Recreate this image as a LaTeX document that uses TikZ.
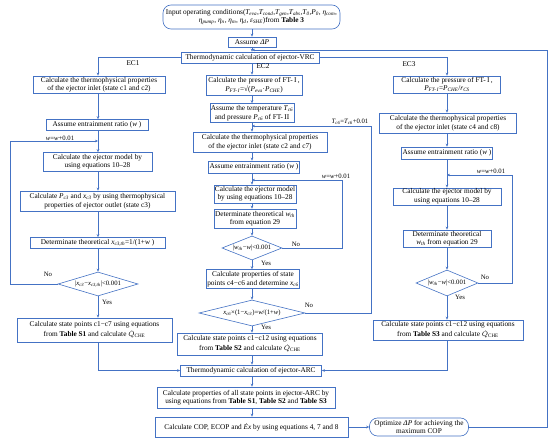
\documentclass[tikz,border=0pt]{standalone}
\usepackage{fontspec}
\setmainfont{Liberation Serif}
\usetikzlibrary{shapes.geometric,arrows.meta}
\definecolor{lb}{RGB}{68,114,196}
\newcommand{\sbv}[2]{\textit{#1\textsubscript{#2}}}
\newcommand{\Qche}{$\dot{Q}_{\mathrm{CHE}}$}
\begin{document}
\begin{tikzpicture}[x=1pt,y=-1pt,
 box/.style={draw=lb, line width=0.6pt, fill=white, align=center, inner sep=1pt, font=\fontsize{7.3}{8.5}\selectfont},
 qbox/.style={box, font=\fontsize{7.3}{10}\selectfont},
 rbox/.style={box, rounded corners=8pt},
 dia/.style={draw=lb, line width=0.6pt, shape=diamond, inner sep=0pt, fill=white, font=\fontsize{6.7}{8}\selectfont},
 ar/.style={draw=lb, line width=0.6pt, -{Stealth[length=3pt,width=2.6pt]}},
 lbl/.style={font=\fontsize{6.7}{8}\selectfont, inner sep=0pt}]
\useasboundingbox (0,0) rectangle (550,441);
\coordinate (X1) at (98,0);
\coordinate (X2) at (252,0);
\coordinate (X3) at (447,0);
% top
\node[rbox, minimum width=177pt, minimum height=24pt] (inp) at (251.5,17) {Input operating conditions(\sbv{T}{eva},\sbv{T}{cond},\sbv{T}{gen},\sbv{T}{abs},\sbv{T}{0},\sbv{P}{0}, \sbv{η}{com},\\\sbv{η}{pump}, \sbv{η}{n}, \sbv{η}{m}, \sbv{η}{d}, \sbv{ε}{SHE})from \textbf{Table 3}};
\node[box, minimum width=48pt, minimum height=10pt] (dp) at (252,42) {Assume \textit{ΔP}};
\node[box, minimum width=138pt, minimum height=11pt] (vrc) at (250,57.5) {Thermodynamic calculation of ejector-VRC};
% EC1
\node[box, minimum width=132pt, minimum height=17pt] (a1) at (99,84.5) {Calculate the thermophysical properties\\of the ejector inlet (state c1 and c2)};
\node[box, minimum width=102pt, minimum height=11pt] (a2) at (97,125) {Assume entrainment ratio (\textit{w} )};
\node[box, minimum width=109pt, minimum height=19pt] (a3) at (97.5,162) {Calculate the ejector model by\\using equations 10–28};
\node[box, minimum width=155pt, minimum height=20pt] (a4) at (97.5,201) {Calculate \sbv{P}{c3} and \sbv{x}{c3} by using thermophysical\\properties of ejector outlet (state c3)};
\node[box, minimum width=135pt, minimum height=11pt] (a5) at (97.5,243) {Determinate theoretical \sbv{x}{c3,th}=1/(1+\textit{w} )};
\node[dia, minimum width=80pt, minimum height=24pt] (ad) at (98,284) {\makebox[0pt]{|\sbv{x}{c3}−\sbv{x}{c3,th}|<0.001}};
\node[qbox, minimum width=155pt, minimum height=24pt] (a6) at (94.5,330) {Calculate state points c1−c7 using equations\\from \textbf{Table S1} and calculate \Qche};
% EC2
\node[box, minimum width=96pt, minimum height=20pt] (c1) at (254,85) {Calculate the pressure of FT-\,I\,,\\\sbv{P}{FT-\,I}=√(\sbv{P}{eva}·\sbv{P}{CHE})};
\node[box, minimum width=80pt, minimum height=19pt] (c2) at (252,113) {Assume the temperature \sbv{T}{c6}\\and pressure \sbv{P}{c6} of FT-\,II};
\node[box, minimum width=134pt, minimum height=20pt] (c3) at (260,142) {Calculate the thermophysical properties\\of the ejector inlet (state c2 and c7)};
\node[box, minimum width=88pt, minimum height=12pt] (c4) at (254,167) {Assume entrainment ratio (\textit{w} )};
\node[box, minimum width=82pt, minimum height=18pt] (c5) at (255,194) {Calculate the ejector model\\by using equations 10–28};
\node[box, minimum width=82pt, minimum height=19pt] (c6) at (255,218.5) {Determinate theoretical \sbv{w}{th}\\from equation 29};
\node[dia, minimum width=60pt, minimum height=24pt] (cd1) at (252,248) {\makebox[0pt]{|\sbv{w}{th}−\textit{w}|<0.001}};
\node[box, minimum width=88pt, minimum height=19pt] (c7) at (253,279) {Calculate properties of state\\points c4−c6 and determine \sbv{x}{c6}};
\node[dia, minimum width=106pt, minimum height=26pt] (cd2) at (252,313) {\makebox[0pt]{\sbv{x}{c6}×(1−\sbv{x}{c3})=\textit{w}/(1+\textit{w})}};
\node[qbox, minimum width=145pt, minimum height=22pt] (c8) at (250,344) {Calculate state points c1−c12 using equations\\from \textbf{Table S2} and calculate \Qche};
% EC3
\node[box, minimum width=107pt, minimum height=17pt] (e1) at (447,84.5) {Calculate the pressure of FT-\,I\,,\\\sbv{P}{FT-\,I}=\sbv{P}{CHE}/\sbv{r}{CS}};
\node[box, minimum width=137pt, minimum height=20pt] (e2) at (448,123) {Calculate the thermophysical properties\\of the ejector inlet (state c4 and c8)};
\node[box, minimum width=88pt, minimum height=12pt] (e3) at (447,153) {Assume entrainment ratio (\textit{w} )};
\node[box, minimum width=108pt, minimum height=17pt] (e4) at (447,196.5) {Calculate the ejector model by\\using equations 10–28};
\node[box, minimum width=88pt, minimum height=17pt] (e5) at (447,238.5) {Determinate theoretical\\\sbv{w}{th} from equation 29};
\node[dia, minimum width=62pt, minimum height=26pt] (ed) at (447,283) {\makebox[0pt]{|\sbv{w}{th}−\textit{w}|<0.001}};
\node[qbox, minimum width=150pt, minimum height=20pt] (e6) at (448,330) {Calculate state points c1−c12 using equations\\from \textbf{Table S3} and calculate \Qche};
% bottom
\node[box, minimum width=141pt, minimum height=11pt] (arc) at (251,370.5) {Thermodynamic calculation of ejector-ARC};
\node[box, minimum width=178pt, minimum height=21pt] (all) at (246,397.5) {Calculate properties of all state points in ejector-ARC by\\using equations from \textbf{Table S1}, \textbf{Table S2} and \textbf{Table S3}};
\node[box, minimum width=193pt, minimum height=20pt] (cop) at (251.5,427) {Calculate COP, ECOP and \textit{Ėx} by using equations 4, 7 and 8};
\node[rbox, minimum width=99pt, minimum height=18pt] (opt) at (419,427) {Optimize \textit{ΔP} for achieving the\\maximum COP};
% top connectors
\draw[ar] (inp.south -| X2) -- (dp.north -| X2);
\draw[ar] (dp.south -| X2) -- (vrc.north -| X2);
\coordinate (fb) at (252,50);
\draw[ar] (opt.east) -- (547,427) -- (547,50) -- (fb);
\draw[ar] (vrc.west) -| (a1.north -| X1);
\draw[ar] (vrc.east) -| (e1.north -| X3);
\draw[ar] (vrc.south -| X2) -- (c1.north -| X2);
\node[lbl, font=\fontsize{7.3}{8}\selectfont] at (133,63) {EC1};
\node[lbl, font=\fontsize{7.3}{8}\selectfont] at (263,66) {EC2};
\node[lbl, font=\fontsize{7.3}{8}\selectfont] at (409,64) {EC3};
% EC1 connectors
\draw[ar] (a1.south -| X1) -- (a2.north -| X1);
\draw[ar] (a2.south -| X1) -- (a3.north -| X1);
\draw[ar] (a3.south -| X1) -- (a4.north -| X1);
\draw[ar] (a4.south -| X1) -- (a5.north -| X1);
\draw[ar] (a5.south -| X1) -- (ad.north);
\draw[ar] (ad.south) -- (a6.north -| X1);
\coordinate (l1) at (98,141);
\draw[ar] (ad.west) -- (10,284) -- (10,141) -- (l1);
\node[lbl] at (60,138) {\textit{w}=\textit{w}+0.01};
\node[lbl] at (48,274) {No};
\node[lbl] at (107,302) {Yes};
\draw[ar] (a6.south -| X1) |- (arc.west);
% EC2 connectors
\draw[ar] (c1.south -| X2) -- (c2.north -| X2);
\draw[ar] (c2.south -| X2) -- (c3.north -| X2);
\draw[ar] (c3.south -| X2) -- (c4.north -| X2);
\draw[ar] (c4.south -| X2) -- (c5.north -| X2);
\draw[ar] (c5.south -| X2) -- (c6.north -| X2);
\draw[ar] (c6.south -| X2) -- (cd1.north);
\draw[ar] (cd1.south) -- (c7.north -| X2);
\draw[ar] (c7.south -| X2) -- (cd2.north);
\draw[ar] (cd2.south) -- (c8.north -| X2);
\draw[ar] (c8.south -| X2) -- (arc.north -| X2);
\coordinate (l2) at (252,126);
\coordinate (l3) at (252,180);
\draw[ar] (cd2.east) -- (371,313) -- (371,126) -- (l2);
\draw[ar] (cd1.east) -- (342,248) -- (342,180) -- (l3);
\node[lbl] at (350,121.5) {\sbv{T}{c6}=\sbv{T}{c6}+0.01};
\node[lbl] at (336,176.5) {\textit{w}=\textit{w}+0.01};
\node[lbl] at (296,244) {No};
\node[lbl] at (266,263) {Yes};
\node[lbl] at (309,305) {No};
\node[lbl] at (266,327) {Yes};
% EC3 connectors
\draw[ar] (e1.south -| X3) -- (e2.north -| X3);
\draw[ar] (e2.south -| X3) -- (e3.north -| X3);
\draw[ar] (e3.south -| X3) -- (e4.north -| X3);
\draw[ar] (e4.south -| X3) -- (e5.north -| X3);
\draw[ar] (e5.south -| X3) -- (ed.north);
\draw[ar] (ed.south) -- (e6.north -| X3);
\coordinate (l4) at (447,175);
\draw[ar] (ed.east) -- (512,283) -- (512,175) -- (l4);
\node[lbl] at (491,171) {\textit{w}=\textit{w}+0.01};
\node[lbl] at (485,277) {No};
\node[lbl] at (460,297) {Yes};
\draw[ar] (e6.south -| X3) |- (arc.east);
% bottom connectors
\draw[ar] (arc.south -| X2) -- (all.north -| X2);
\draw[ar] (all.south -| X2) -- (cop.north -| X2);
\draw[ar] (cop.east) -- (opt.west);
\end{tikzpicture}
\end{document}
